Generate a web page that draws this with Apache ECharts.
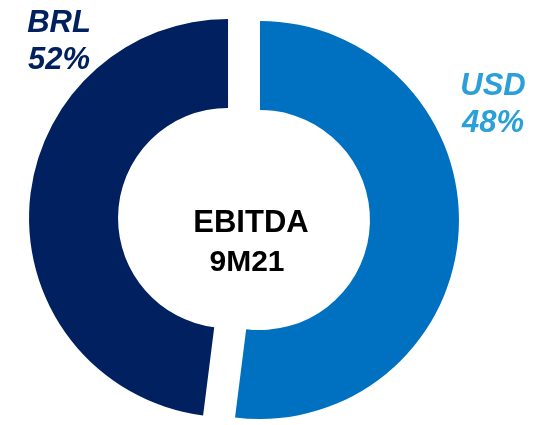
<!DOCTYPE html>
<html>
<head>
<meta charset="utf-8">
<style>
  html, body { margin: 0; padding: 0; background: #ffffff; }
  #chart { width: 538px; height: 425px; }
</style>
<script src="https://cdn.jsdelivr.net/npm/echarts@6/dist/echarts.min.js"></script>
</head>
<body>
<div id="chart"></div>
<script>
// ---- data ----
// Slice names, in drawing order (clockwise from 12 o'clock)
const categories = ['USD', 'BRL'];
// Angular share of each ring segment as drawn in the picture (percent)
const drawnShares = [52, 48];
// Percent labels printed next to each segment
const labelPercents = ['48%', '52%'];
// Text in the middle of the ring
const centerLines = ['EBITDA', '9M21'];

// ---- styling ----
const sliceColors = ['#0070C0', '#002060'];
const labelColors = ['#2A9FD8', '#002060'];
const labelPos = [
  { x: 493, y1: 86, y2: 123 },  // USD
  { x: 59,  y1: 23, y2: 60 }    // BRL
];
const FONT = '"Liberation Sans", Arial, sans-serif';

const chart = echarts.init(document.getElementById('chart'), null, { renderer: 'canvas' });

const pieData = categories.map((name, i) => ({
  name: name,
  value: drawnShares[i],
  selected: true,
  itemStyle: { color: sliceColors[i] },
  select: { itemStyle: { color: sliceColors[i] } }
}));

const graphics = [];
categories.forEach((name, i) => {
  const p = labelPos[i];
  [name, labelPercents[i]].forEach((txt, j) => {
    graphics.push({
      type: 'text',
      x: p.x,
      y: j === 0 ? p.y1 : p.y2,
      silent: true,
      style: {
        text: txt,
        fill: labelColors[i],
        fontFamily: FONT,
        fontSize: 31,
        fontWeight: 'bold',
        fontStyle: 'italic',
        textAlign: 'center',
        textVerticalAlign: 'middle'
      }
    });
  });
});
const centerPos = [{ x: 251, y: 223 }, { x: 247, y: 263 }];
const centerSizes = [31, 30];
centerLines.forEach((txt, j) => {
  graphics.push({
    type: 'text',
    x: centerPos[j].x,
    y: centerPos[j].y,
    silent: true,
    style: {
      text: txt,
      fill: '#000000',
      fontFamily: FONT,
      fontSize: centerSizes[j],
      fontWeight: 'bold',
      textAlign: 'center',
      textVerticalAlign: 'middle'
    }
  });
});

chart.setOption({
  animation: false,
  backgroundColor: '#ffffff',
  series: [{
    type: 'pie',
    center: [244, 219],
    radius: [110, 199],
    startAngle: 90,
    clockwise: true,
    selectedMode: 'multiple',
    selectedOffset: 16,
    label: { show: false },
    labelLine: { show: false },
    emphasis: { disabled: true },
    itemStyle: { borderWidth: 0 },
    data: pieData
  }],
  graphic: graphics
});
</script>
</body>
</html>
